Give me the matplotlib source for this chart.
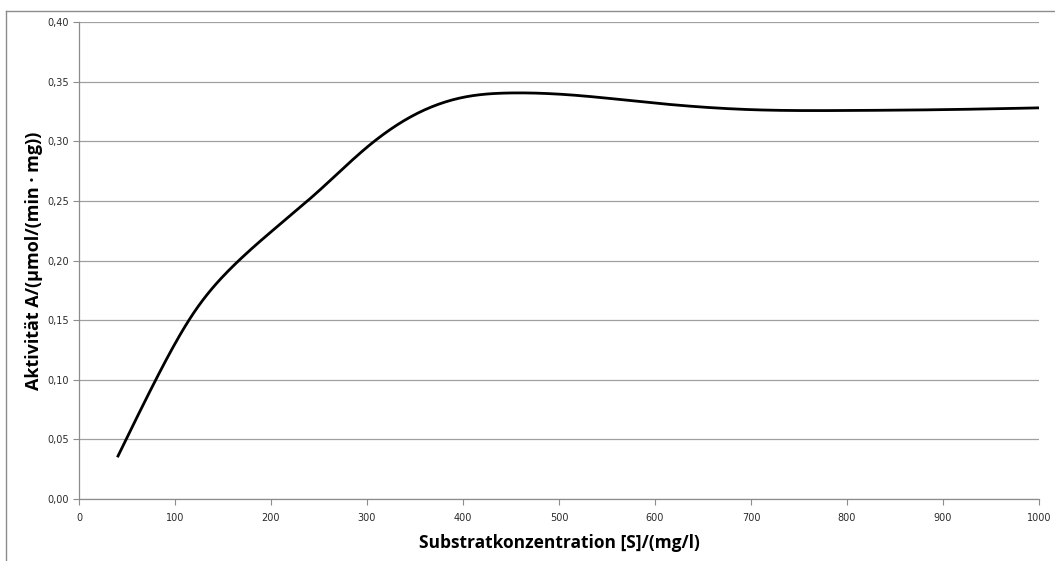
import numpy as np
import matplotlib
matplotlib.use("Agg")
import matplotlib.pyplot as plt
from matplotlib.lines import Line2D
from matplotlib.ticker import FuncFormatter

# Measured substrate concentrations and activities
konzentration = [40, 80, 120, 160, 200, 250, 300, 350, 400, 450, 500, 600, 700, 800, 900, 1000]
aktivitaet = [0.035, 0.100, 0.1567, 0.1949, 0.224, 0.2585, 0.295, 0.3224, 0.3368,
              0.3405, 0.3395, 0.332, 0.3265, 0.3258, 0.3265, 0.328]

x_ticks = [0, 100, 200, 300, 400, 500, 600, 700, 800, 900, 1000]
y_ticks = [0.00, 0.05, 0.10, 0.15, 0.20, 0.25, 0.30, 0.35, 0.40]


def natural_spline(xs, ys, n=400):
    """Natural cubic spline through the measured points."""
    xs = np.asarray(xs, float)
    ys = np.asarray(ys, float)
    m = len(xs)
    h = np.diff(xs)
    A = np.zeros((m, m))
    b = np.zeros(m)
    A[0, 0] = A[-1, -1] = 1.0
    for i in range(1, m - 1):
        A[i, i - 1] = h[i - 1]
        A[i, i] = 2 * (h[i - 1] + h[i])
        A[i, i + 1] = h[i]
        b[i] = 6 * ((ys[i + 1] - ys[i]) / h[i] - (ys[i] - ys[i - 1]) / h[i - 1])
    M = np.linalg.solve(A, b)
    xx = np.linspace(xs[0], xs[-1], n)
    idx = np.clip(np.searchsorted(xs, xx) - 1, 0, m - 2)
    x0, x1 = xs[idx], xs[idx + 1]
    y0, y1 = ys[idx], ys[idx + 1]
    m0, m1 = M[idx], M[idx + 1]
    hh = x1 - x0
    a = (x1 - xx) / hh
    c = (xx - x0) / hh
    yy = a * y0 + c * y1 + ((a ** 3 - a) * m0 + (c ** 3 - c) * m1) * hh ** 2 / 6
    return xx, yy


W, H = 1055, 561
fig = plt.figure(figsize=(W / 100, H / 100), dpi=100)
fig.patch.set_facecolor("white")

# chart frame (top and left edges visible)
fig.add_artist(Line2D([6 / W, 6 / W], [0, 1 - 11 / H], color="#8c8c8c", lw=1.0))
fig.add_artist(Line2D([6 / W, 1], [1 - 11 / H, 1 - 11 / H], color="#8c8c8c", lw=1.0))

left, right, top, bottom = 79, 1039, 22, 499
ax = fig.add_axes([left / W, 1 - bottom / H, (right - left) / W, (bottom - top) / H])

sx, sy = natural_spline(konzentration, aktivitaet)
ax.plot(sx, sy, color="black", lw=2.0, solid_capstyle="butt", zorder=3)

ax.set_xlim(0, 1000)
ax.set_ylim(0, 0.40)
ax.set_xticks(x_ticks)
ax.set_yticks(y_ticks)
ax.yaxis.set_major_formatter(FuncFormatter(lambda v, p: f"{v:.2f}".replace(".", ",")))
ax.xaxis.set_major_formatter(FuncFormatter(lambda v, p: f"{v:.0f}"))

ax.grid(axis="y", color="#a0a0a0", lw=0.9)
ax.set_axisbelow(True)
for side in ["top", "right"]:
    ax.spines[side].set_visible(False)
for side in ["left", "bottom"]:
    ax.spines[side].set_color("#8c8c8c")
    ax.spines[side].set_linewidth(0.9)

ax.tick_params(axis="both", direction="out", length=4, width=0.8, color="#8c8c8c",
               labelsize=7, labelcolor="#2a2a2a")
ax.tick_params(axis="x", pad=6)
ax.tick_params(axis="y", pad=3)

ax.set_xlabel("Substratkonzentration [S]/(mg/l)", fontsize=12.5, fontweight="bold",
              family=["Open Sans", "DejaVu Sans"], labelpad=8)
ax.set_ylabel("Aktivität A/(µmol/(min · mg))", fontsize=13, fontweight="bold",
              family=["Open Sans", "DejaVu Sans"], labelpad=3)

fig.savefig("out.png", dpi=100, facecolor="white")
